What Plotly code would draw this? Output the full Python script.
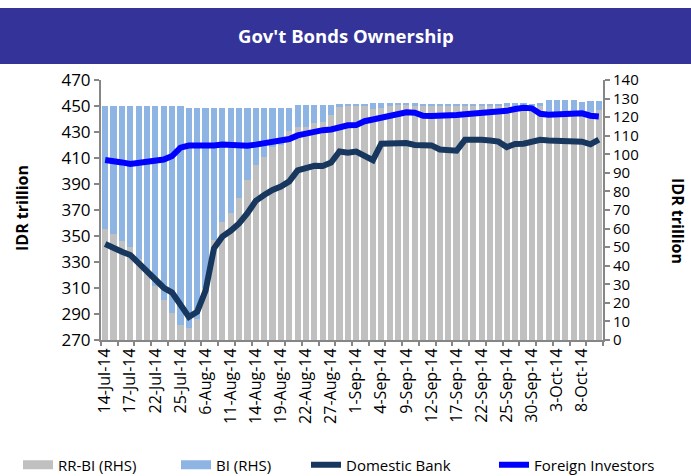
import plotly.graph_objects as go

dates = ["14-Jul-14","15-Jul-14","16-Jul-14","17-Jul-14","18-Jul-14","21-Jul-14","22-Jul-14","23-Jul-14","24-Jul-14","25-Jul-14",
         "4-Aug-14","5-Aug-14","6-Aug-14","7-Aug-14","8-Aug-14","11-Aug-14","12-Aug-14","13-Aug-14","14-Aug-14","15-Aug-14",
         "18-Aug-14","19-Aug-14","20-Aug-14","21-Aug-14","22-Aug-14","25-Aug-14","26-Aug-14","27-Aug-14","28-Aug-14","29-Aug-14",
         "1-Sep-14","2-Sep-14","3-Sep-14","4-Sep-14","5-Sep-14","8-Sep-14","9-Sep-14","10-Sep-14","11-Sep-14","12-Sep-14",
         "15-Sep-14","16-Sep-14","17-Sep-14","18-Sep-14","19-Sep-14","22-Sep-14","23-Sep-14","24-Sep-14","25-Sep-14","26-Sep-14",
         "29-Sep-14","30-Sep-14","1-Oct-14","2-Oct-14","3-Oct-14","6-Oct-14","7-Oct-14","8-Oct-14","9-Oct-14","10-Oct-14"]

rr_bi = [59.8, 56.9, 53.5, 50.1, 43.5, 36.5, 29.0, 21.5, 14.4, 8.1,
         6.6, 11.1, 28.0, 53.8, 63.5, 68.2, 76.3, 86.2, 94.2, 98.7,
         104.0, 105.0, 112.5, 114.9, 114.5, 116.7, 117.6, 121.2, 125.6, 126.2,
         126.5, 126.3, 124.2, 125.0, 126.2, 126.5, 126.5, 126.5, 126.5, 126.5,
         126.5, 126.4, 126.5, 126.4, 126.5, 126.5, 126.5, 126.5, 125.8, 125.8,
         126.0, 126.0, 126.0, 122.9, 122.9, 122.9, 122.9, 122.9, 122.9, 123.9]

bi = [66.4, 69.3, 72.7, 76.1, 82.7, 89.7, 97.2, 104.7, 111.8, 118.1,
      118.5, 114.0, 97.1, 71.3, 61.6, 56.9, 48.8, 38.9, 30.9, 26.4,
      21.1, 20.1, 12.6, 11.6, 12.0, 9.8, 8.9, 5.3, 1.4, 0.8,
      0.5, 1.0, 3.6, 2.8, 1.6, 1.3, 1.3, 1.0, 0.2, 0.1,
      0.1, 0.6, 0.1, 0.8, 0.2, 0.2, 0.2, 0.2, 1.7, 1.7,
      1.4, 1.3, 1.5, 6.3, 6.3, 6.3, 6.3, 5.3, 5.9, 4.7]

domestic_bank = [343.8, 340.5, 337.9, 335.4, 329.0, 323.0, 316.7, 310.2, 306.5, 298.0,
                 287.7, 291.8, 308.0, 340.5, 349.5, 354.0, 359.7, 367.5, 377.0, 381.5,
                 385.5, 388.0, 392.0, 400.5, 402.5, 404.0, 403.8, 406.5, 415.0, 414.0,
                 415.0, 411.8, 408.3, 421.0, 421.3, 421.3, 421.5, 420.0, 420.0, 419.7,
                 416.5, 415.6, 415.6, 424.0, 424.3, 424.0, 423.5, 422.6, 418.4, 420.8,
                 421.0, 422.0, 424.0, 423.5, 423.0, 423.5, 423.0, 422.5, 420.5, 424.2]

foreign_investors = [408.5, 408.0, 406.6, 405.4, 406.2, 407.0, 407.6, 408.8, 411.5, 418.0,
                     419.6, 419.6, 419.0, 419.6, 420.3, 420.0, 419.5, 419.5, 420.3, 421.3,
                     422.6, 424.4, 424.6, 427.4, 429.0, 429.6, 431.4, 431.9, 433.2, 435.2,
                     435.3, 438.3, 439.6, 440.8, 442.8, 444.3, 445.2, 444.8, 442.5, 442.3,
                     442.3, 442.6, 443.0, 443.6, 444.0, 444.6, 445.4, 446.3, 446.3, 447.7,
                     448.7, 448.2, 444.0, 443.3, 443.6, 444.0, 444.9, 444.4, 442.5, 442.0]

label_step = 3
tick_step = 2

C_GRAY = "#c0c0c0"
C_BI = "#8db4e2"
C_DB = "#17375e"
C_FI = "#0000ff"
AX = "#868686"
FONT = "Open Sans"

x_idx = list(range(len(dates)))
W, H = 691, 476
L, R, T, B = 101, 88, 80, 136
PW, PH = W - L - R, H - T - B

def px(x):
    return (x - L) / PW

def py(y):
    return (H - B - y) / PH

fig = go.Figure()
fig.add_trace(go.Bar(x=x_idx, y=rr_bi, name="RR-BI (RHS)", marker=dict(color=C_GRAY, line_width=0),
                     yaxis="y", showlegend=False))
fig.add_trace(go.Bar(x=x_idx, y=bi, name="BI (RHS)", marker=dict(color=C_BI, line_width=0),
                     yaxis="y", showlegend=False))
fig.add_trace(go.Scatter(x=x_idx, y=domestic_bank, name="Domestic Bank", mode="lines",
                         line=dict(color=C_DB, width=6), yaxis="y2", showlegend=False))
fig.add_trace(go.Scatter(x=x_idx, y=foreign_investors, name="Foreign Investors", mode="lines",
                         line=dict(color=C_FI, width=6), yaxis="y2", showlegend=False))
# legend entries (two legend blocks to mimic the reference spacing)
for nm, col, w, lg in [("RR-BI (RHS)", C_GRAY, 9, "legend"), ("BI (RHS)", C_BI, 9, "legend"),
                       ("Domestic Bank", C_DB, 6, "legend2"), ("Foreign Investors", C_FI, 6, "legend2")]:
    fig.add_trace(go.Scatter(x=[None], y=[None], mode="lines", name=nm, legend=lg,
                             line=dict(color=col, width=w), yaxis="y2", showlegend=True))
# carrier for boundary tick marks
fig.add_trace(go.Scatter(x=[0], y=[None], xaxis="x2", yaxis="y", mode="markers",
                         showlegend=False, hoverinfo="skip"))

legend_common = dict(orientation="h", xref="paper", yref="paper", xanchor="left",
                     y=py(465), yanchor="middle", font=dict(size=15), traceorder="normal",
                     tracegroupgap=0, entrywidthmode="pixels", bgcolor="rgba(0,0,0,0)")

fig.update_layout(
    width=W, height=H, margin=dict(l=L, r=R, t=T, b=B, autoexpand=False),
    paper_bgcolor="white", plot_bgcolor="white",
    barmode="stack", bargap=0.26,
    font=dict(family=FONT, color="black"),
    xaxis=dict(range=[-0.5, len(dates) - 0.5], tickmode="array",
               tickvals=x_idx[::label_step], ticktext=dates[::label_step],
               tickangle=-90, ticks="", showline=True, linecolor=AX, linewidth=2,
               showgrid=False, zeroline=False, tickfont=dict(size=16), automargin=False),
    xaxis2=dict(overlaying="x", anchor="y", side="bottom", type="linear",
                range=[-0.5, len(dates) - 0.5], tickmode="array",
                tickvals=[i - 0.5 for i in range(0, len(dates) + 1, tick_step)],
                ticks="outside", ticklen=5, tickwidth=1.5, tickcolor=AX,
                showticklabels=False, showline=False, showgrid=False, zeroline=False,
                automargin=False),
    yaxis=dict(side="right", range=[0, 140], dtick=10, tick0=0, ticks="outside",
               ticklen=5, tickwidth=1.5, tickcolor=AX, showline=True, linecolor=AX, linewidth=2,
               showgrid=False, zeroline=False, tickfont=dict(size=15), automargin=False),
    yaxis2=dict(side="left", overlaying="y", range=[270, 470], dtick=20, tick0=270,
                ticks="outside", ticklen=5, tickwidth=1.5, tickcolor=AX, showline=True,
                linecolor=AX, linewidth=2, showgrid=False, zeroline=False,
                tickfont=dict(size=17), automargin=False),
    legend=dict(x=px(18), entrywidth=113, **legend_common),
    legend2=dict(x=px(306), entrywidth=143, **legend_common),
    shapes=[dict(type="rect", xref="paper", yref="paper", x0=px(0), x1=px(W),
                 y0=py(64), y1=py(8), fillcolor="#333399", line_width=0, layer="above")],
    annotations=[
        dict(text="<b>Gov't Bonds Ownership</b>", xref="paper", yref="paper",
             x=px(346), y=py(36), xanchor="center", yanchor="middle", showarrow=False,
             font=dict(size=18.5, color="white", family=FONT)),
        dict(text="<b>IDR trillion</b>", xref="paper", yref="paper", x=px(22), y=py(208),
             xanchor="center", yanchor="middle", textangle=-90, showarrow=False,
             font=dict(size=16, color="black", family=FONT)),
        dict(text="<b>IDR trillion</b>", xref="paper", yref="paper", x=px(678), y=py(221),
             xanchor="center", yanchor="middle", textangle=90, showarrow=False,
             font=dict(size=16, color="black", family=FONT)),
    ],
)

fig.write_html("out.html")
